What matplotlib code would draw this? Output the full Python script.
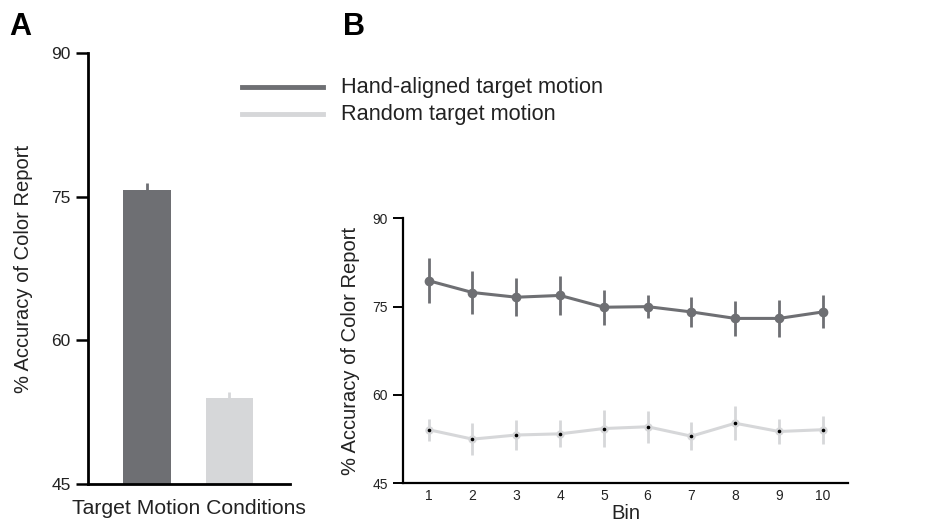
import matplotlib
matplotlib.use("Agg")
import matplotlib.pyplot as plt
from matplotlib.lines import Line2D

plt.rcParams['font.family'] = ['Liberation Sans', 'DejaVu Sans']

# Panel A data
conditions = ["Hand-aligned target motion", "Random target motion"]
bar_means = [75.7, 54.0]
bar_errs = [0.7, 0.6]

# Panel B data
bins = [1, 2, 3, 4, 5, 6, 7, 8, 9, 10]
hand_means = [79.4, 77.4, 76.6, 76.9, 74.9, 75.0, 74.1, 73.0, 73.0, 74.1]
hand_errs = [3.8, 3.6, 3.2, 3.3, 3.0, 2.0, 2.5, 3.0, 3.2, 2.8]
rand_means = [54.1, 52.5, 53.2, 53.4, 54.3, 54.6, 53.0, 55.2, 53.8, 54.1]
rand_errs = [1.9, 2.7, 2.6, 2.3, 3.1, 2.7, 2.4, 2.9, 2.2, 2.4]

yticks = [45, 60, 75, 90]

dark = "#6e6f73"
light = "#d6d7d9"
txt = "#222222"

fig = plt.figure(figsize=(9.3, 5.23), dpi=100)

# ---- Panel A ----
axA = fig.add_axes([0.0946, 0.0746, 0.2172, 0.8241])
xpos = [0, 1]
axA.bar(xpos, bar_means, width=0.58, color=[dark, light], bottom=0)
for x, m, e, c in zip(xpos, bar_means, bar_errs, [dark, light]):
    axA.errorbar(x, m, yerr=[[0], [e]], color=c, lw=2, capsize=0)
axA.set_ylim(45, 90)
axA.set_xlim(-0.715, 1.733)
axA.set_yticks(yticks)
axA.set_xticks([])
axA.spines['top'].set_visible(False)
axA.spines['right'].set_visible(False)
axA.spines['left'].set_linewidth(2)
axA.spines['bottom'].set_linewidth(2)
axA.tick_params(axis='y', length=9, width=1.8, labelsize=12.5, colors='black', labelcolor=txt)
axA.set_ylabel("% Accuracy of Color Report", fontsize=14.5, color=txt, labelpad=13)
axA.set_xlabel("Target Motion Conditions", fontsize=15.2, color=txt, labelpad=11)

# ---- Panel B ----
axB = fig.add_axes([0.433, 0.0759, 0.479, 0.5067])
axB.errorbar(bins, hand_means, yerr=hand_errs, color=dark, lw=2.2, elinewidth=2,
             capsize=0, marker='o', markersize=6, zorder=3)
axB.errorbar(bins, rand_means, yerr=rand_errs, color=light, lw=2.2, elinewidth=2,
             capsize=0, marker='o', markersize=5, markerfacecolor=light,
             markeredgecolor=light, zorder=2)
axB.plot(bins, rand_means, linestyle='none', marker='o', markersize=1.6,
         color='black', zorder=4)
axB.set_ylim(45, 90)
axB.set_xlim(0.406, 10.58)
axB.set_yticks(yticks)
axB.set_xticks(bins)
axB.spines['top'].set_visible(False)
axB.spines['right'].set_visible(False)
axB.spines['left'].set_linewidth(1.6)
axB.spines['bottom'].set_linewidth(1.6)
axB.tick_params(axis='y', length=7, width=1.4, labelsize=10, labelcolor=txt)
axB.tick_params(axis='x', length=0, labelsize=10, pad=4, labelcolor=txt)
axB.set_ylabel("% Accuracy of Color Report", fontsize=14.5, color=txt, labelpad=9)
axB.set_xlabel("Bin", fontsize=14.5, color=txt, labelpad=1)

# Legend (keys + labels)
W, H = 930.0, 523.0
for (y, c, label) in [(87, dark, conditions[0]), (114, light, conditions[1])]:
    fig.add_artist(Line2D([242 / W, 323 / W], [1 - y / H, 1 - y / H], color=c, lw=3.5,
                          transform=fig.transFigure))
    fig.text(341 / W, 1 - y / H, label, fontsize=15.7, color=txt, va='center', ha='left')

# Panel letters
fig.text(9 / W, 1 - 35 / H, "A", fontsize=22, fontweight='bold')
fig.text(343 / W, 1 - 35 / H, "B", fontsize=22, fontweight='bold')

fig.savefig("out.png", dpi=100)
